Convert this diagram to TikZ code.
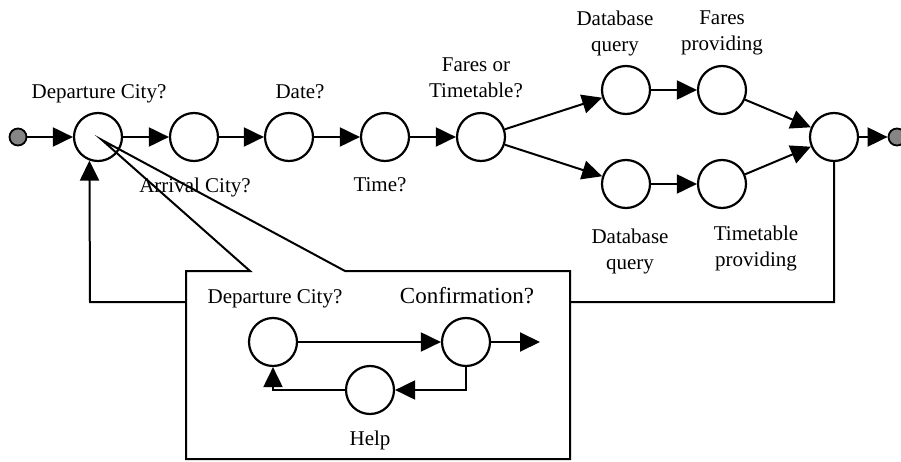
\documentclass[tikz,border=0pt]{standalone}
\usepackage{fontspec}
\setmainfont{Liberation Serif}
\usetikzlibrary{arrows.meta}
\begin{document}
\begin{tikzpicture}[x=1pt,y=-1pt,
  state/.style={circle,draw,line width=2.2pt,minimum size=48pt,inner sep=0pt},
  dot/.style={circle,draw,line width=1.8pt,fill=black!48,minimum size=17pt,inner sep=0pt},
  arr/.style={line width=2pt,-{Triangle[length=20pt,width=19pt]}},
  plain/.style={line width=2pt},
  lbl/.style={font=\fontsize{21}{26}\selectfont,inner sep=0pt},
  lblb/.style={lbl,anchor=base},
  lbln/.style={lbl,anchor=north,align=center}]
\useasboundingbox (0,0) rectangle (901,462);
\fill[white] (0,0) rectangle (901,462);

% main dialogue chain
\node[dot] (start) at (18,137) {};
\node[state] (c1) at (98,137) {};
\node[state] (c2) at (194,137) {};
\node[state] (c3) at (289,137) {};
\node[state] (c4) at (385,137) {};
\node[state] (c5) at (481,137) {};
\node[state] (u1) at (626,90) {};
\node[state] (u2) at (722,90) {};
\node[state] (l1) at (626,184) {};
\node[state] (l2) at (722,184) {};
\node[state] (fin) at (834,137) {};
\node[dot] (stop) at (897,137) {};

\draw[arr] (start) -- (c1);
\draw[arr] (c1) -- (c2);
\draw[arr] (c2) -- (c3);
\draw[arr] (c3) -- (c4);
\draw[arr] (c4) -- (c5);
\draw[arr] (c5) -- (u1);
\draw[arr] (c5) -- (l1);
\draw[arr] (u1) -- (u2);
\draw[arr] (l1) -- (l2);
\draw[arr] (u2) -- (fin);
\draw[arr] (l2) -- (fin);
\draw[arr] (fin) -- (stop);

% labels of the main chain
\node[lblb] (tdep) at (99,99) {Departure City?};
\node[lblb] (tarr) at (195,193) {Arrival City?};
\node[lblb] (tdate) at (300,99) {Date?};
\node[lblb] (ttime) at (380,192) {Time?};
\node[lbln] (tfor) at (476,58) {Fares or\\Timetable?};
\node[lbln] (tdbu) at (615,11) {Database\\query};
\node[lbln] (tfp) at (722,11) {Fares\\providing};
\node[lbln] (tdbl) at (630,229) {Database\\query};
\node[lbln] (ttp) at (756,226) {Timetable\\providing};

% loop back to the first question
\coordinate (loopL) at (90,302);
\draw[arr] (fin.south) |- (loopL) -- (c1.250);

% callout box with the detailed sub-dialogue
\coordinate (apex) at (102,140);
\fill[white] (186,271) rectangle (570,459);
\draw[plain,line join=miter] (250,271) -- (apex) -- (345,271) -- (570,271) -- (570,459) -- (186,459) -- (186,271) -- cycle;

\node[state] (A) at (273,342) {};
\node[state] (B) at (466,342) {};
\node[state] (H) at (370,390) {};
\coordinate (outB) at (540,342);

\draw[arr] (A) -- (B);
\draw[arr] (B) -- (outB);
\draw[arr] (B.south) |- (H.east);
\draw[arr] (H.west) -| (A.south);

\node[lblb] (tdep2) at (275,303) {Departure City?};
\node[lblb,font=\fontsize{23}{27}\selectfont] (tconf) at (467,303) {Confirmation?};
\node[lblb] (thelp) at (370,445) {Help};
\end{tikzpicture}
\end{document}
